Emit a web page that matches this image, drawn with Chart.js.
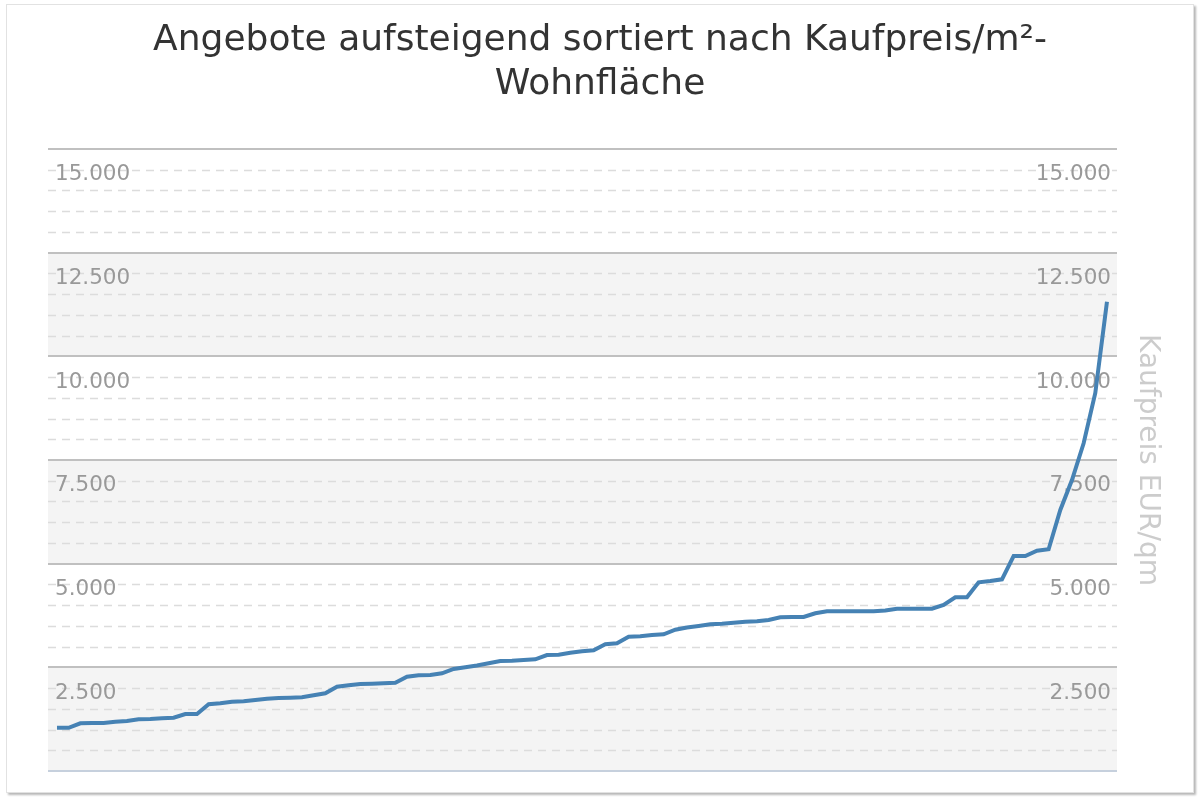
<!DOCTYPE html>
<html>
<head>
<meta charset="utf-8">
<script src="https://cdn.jsdelivr.net/npm/chart.js@4.4.1/dist/chart.umd.min.js"></script>
<style>
  html, body { margin: 0; padding: 0; background: #ffffff; }
  #frame { position: absolute; left: 6px; top: 4px; width: 1186px; height: 787px;
           border: 1px solid #e2e2e2; box-shadow: 2px 2px 2px #b8b8b8; background: #fff; }
  #wrap { position: absolute; left: 0; top: 0; width: 1200px; height: 800px; }
</style>
</head>
<body>
<div id="frame"></div>
<div id="wrap"><canvas id="c" width="1200" height="800"></canvas></div>
<script>
// ---- data ----
const titleLines = ["Angebote aufsteigend sortiert nach Kaufpreis/m²-", "Wohnfläche"];
const axisTitle = "Kaufpreis EUR/qm";
const prices = [
  1540, 1540, 1650, 1660, 1660, 1690, 1705, 1750, 1755, 1770,
  1785, 1875, 1875, 2110, 2133, 2171, 2181, 2212, 2244, 2260,
  2268, 2277, 2326, 2374, 2533, 2567, 2598, 2605, 2615, 2629,
  2774, 2808, 2815, 2856, 2960, 3001, 3044, 3097, 3153, 3160,
  3177, 3194, 3297, 3305, 3353, 3387, 3411, 3555, 3580, 3739,
  3748, 3780, 3797, 3908, 3961, 3997, 4038, 4052, 4076, 4101,
  4110, 4142, 4207, 4214, 4214, 4303, 4351, 4351, 4351, 4351,
  4351, 4371, 4412, 4414, 4414, 4414, 4503, 4689, 4689, 5051,
  5082, 5123, 5685, 5685, 5813, 5847, 6794, 7518, 8403, 9616,
  11818
];
const ranks = prices.map((_, i) => i + 1);
const yMin = 500, yMax = 15500, minorStep = 500, majorStep = 2500;
const tickValues = [2500, 5000, 7500, 10000, 12500, 15000];

function fmt(v) { return String(v).replace(/\B(?=(\d{3})+(?!\d))/g, '.'); }

const bgPlugin = {
  id: 'bg',
  beforeDraw(chart) {
    const ctx = chart.ctx, a = chart.chartArea, y = chart.scales.y;
    ctx.save();
    let k = 0;
    for (let v = yMin; v < yMax; v += majorStep, k++) {
      if (k % 2 === 0) {
        const p1 = y.getPixelForValue(v), p2 = y.getPixelForValue(Math.min(v + majorStep, yMax));
        ctx.fillStyle = '#f4f4f4';
        ctx.fillRect(a.left, p2, a.right - a.left, p1 - p2);
      }
    }
    ctx.lineWidth = 1.5;
    ctx.strokeStyle = '#dcdcdc';
    ctx.setLineDash([8, 6]);
    for (let v = yMin; v <= yMax; v += minorStep) {
      if ((v - yMin) % majorStep === 0) continue;
      const p = Math.round(y.getPixelForValue(v)) + 0.5;
      ctx.beginPath(); ctx.moveTo(a.left, p); ctx.lineTo(a.right, p); ctx.stroke();
    }
    ctx.setLineDash([]);
    ctx.lineWidth = 2;
    for (let v = yMin; v <= yMax; v += majorStep) {
      const p = Math.round(y.getPixelForValue(v));
      ctx.strokeStyle = v === yMin ? '#c6d0dd' : '#c0c0c0';
      ctx.beginPath(); ctx.moveTo(a.left, p); ctx.lineTo(a.right, p); ctx.stroke();
    }
    ctx.restore();
  }
};

const tickFont = { family: 'DejaVu Sans', size: 21.5 };
new Chart(document.getElementById('c'), {
  type: 'line',
  data: {
    labels: ranks,
    datasets: [{
      data: prices,
      borderColor: '#4682b4',
      borderWidth: 4,
      pointRadius: 0,
      tension: 0,
      fill: false,
      yAxisID: 'y'
    }]
  },
  options: {
    responsive: false,
    animation: false,
    events: [],
    layout: { padding: { top: 18.5, bottom: 29, left: 0, right: 0 } },
    plugins: {
      legend: { display: false },
      tooltip: { enabled: false },
      title: {
        display: true,
        text: titleLines,
        color: '#333333',
        font: { family: 'DejaVu Sans', size: 36, weight: 'normal', lineHeight: 1.22 },
        padding: { top: 0, bottom: 42.66 }
      }
    },
    scales: {
      x: {
        type: 'linear',
        display: false,
        min: 0.23,
        max: 91.86
      },
      y: {
        position: 'left',
        min: yMin, max: yMax,
        afterBuildTicks(s) { s.ticks = tickValues.map(v => ({ value: v })); },
        afterFit(s) { s.width = 48; },
        grid: { display: false, drawTicks: false },
        border: { display: false },
        ticks: { mirror: true, padding: 7, labelOffset: 5, color: '#999999', font: tickFont, callback: v => fmt(v) }
      },
      y2: {
        position: 'right',
        min: yMin, max: yMax,
        afterBuildTicks(s) { s.ticks = tickValues.map(v => ({ value: v })); },
        afterFit(s) { s.width = 83; },
        grid: { display: false, drawTicks: false },
        border: { display: false },
        ticks: { mirror: true, padding: -6, labelOffset: 5, color: '#999999', font: tickFont, callback: v => fmt(v) },
        title: {
          display: true,
          text: axisTitle,
          color: '#cccccc',
          font: { family: 'DejaVu Sans', size: 28 },
          padding: { top: 36.2, bottom: 0 }
        }
      }
    }
  },
  plugins: [bgPlugin]
});
</script>
</body>
</html>
